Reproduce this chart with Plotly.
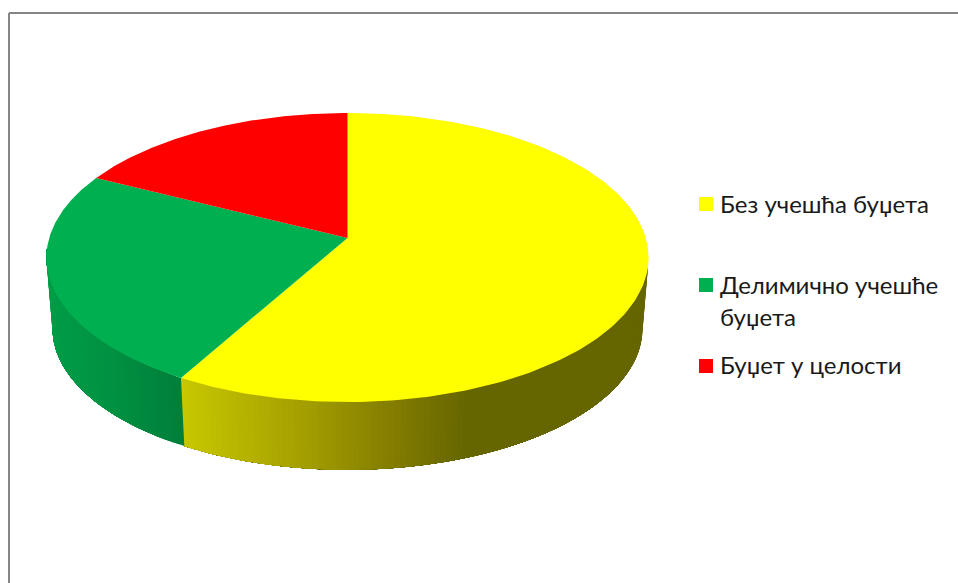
import numpy as np
import plotly.graph_objects as go

# ---- data ----
categories = ["Без учешћа буџета", "Делимично учешће<br>буџета", "Буџет у целости"]
values = [58.2, 24.2, 17.6]
top_colors = ["#FFFF00", "#00B050", "#FF0000"]

# side-wall shading stops: screen x -> colour
yellow_x = [180, 300, 400, 468, 660]
yellow_rgb = [(200, 200, 0), (165, 160, 0), (128, 122, 0), (102, 102, 0), (102, 102, 0)]
green_x = [40, 110, 185]
green_rgb = [(0, 158, 72), (0, 145, 66), (0, 125, 58)]

# legend placement
swatch_x = 706
swatch_y = [204, 285, 366]
text_y = [203, 284, 364]
line_gap = 32
text_x = 718

# ---- projection of the tilted disc ----
CX, CY = 347.5, 238.0
K, P, RX = 141.9, 0.135, 298.3
DROP, SHRINK = 71.0, 0.98


def project(theta_deg, level=0):
    t = np.radians(theta_deg)
    u, v = np.sin(t), -np.cos(t)
    d = 1 - P * v
    s = SHRINK if level else 1.0
    return CX + s * RX * u / d, CY + (DROP if level else 0) + s * K * v / d


def shade(x, xs, rgbs):
    c = [np.interp(x, xs, [r[i] for r in rgbs]) for i in range(3)]
    return "rgb(%d,%d,%d)" % tuple(int(round(a)) for a in c)


edges = np.concatenate([[0], np.cumsum(values)]) / sum(values) * 360.0

fig = go.Figure()


def polygon(xs, ys, color):
    fig.add_trace(go.Scatter(
        x=xs, y=ys, mode="lines", fill="toself", fillcolor=color,
        line=dict(width=0), hoverinfo="skip", showlegend=False))


def wall(a_from, a_to, xs_stops, rgb_stops, step=1.0):
    # each strip reaches to the far end of the wall and is overpainted by the next,
    # so no seams show between neighbours
    for a in np.arange(a_from, a_to, step):
        th = np.linspace(a, a_to, 60)
        x_top, y_top = project(th)
        x_bot, y_bot = project(th[::-1], 1)
        col = shade(project(a + step / 2)[0], xs_stops, rgb_stops)
        polygon(np.r_[x_top, x_bot, x_top[0]], np.r_[y_top, y_bot, y_top[0]], col)


wall(100.0, edges[1], yellow_x, yellow_rgb)
wall(edges[1], 266.0, green_x, green_rgb)

# top face wedges
for i in range(len(values)):
    th = np.linspace(edges[i], edges[i + 1], 200)
    xs, ys = project(th)
    polygon(np.r_[CX, xs, CX], np.r_[CY, ys, CY], top_colors[i])

# legend swatches and labels
annotations = []
for i, name in enumerate(categories):
    fig.add_trace(go.Scatter(
        x=[swatch_x], y=[swatch_y[i]], mode="markers", name=name.replace("<br>", " "),
        marker=dict(symbol="square", size=14, color=top_colors[i], line=dict(width=0)),
        showlegend=False, hoverinfo="name"))
    for j, line in enumerate(name.split("<br>")):
        annotations.append(dict(
            x=text_x, y=text_y[i] + j * line_gap, xref="x", yref="y", text=line,
            showarrow=False, xanchor="left", yanchor="middle",
            font=dict(family="Lato, Carlito, 'Open Sans', sans-serif", size=24, color="#1A1A1A")))

# chart frame, running off the right and bottom of the picture
frame = [dict(type="line", x0=9, x1=958, y0=13, y1=13),
         dict(type="line", x0=9, x1=9, y0=13, y1=583)]
for s in frame:
    s.update(xref="x", yref="y", line=dict(color="#868686", width=2), layer="above")

fig.update_layout(
    width=958, height=583, margin=dict(l=0, r=0, t=0, b=0),
    paper_bgcolor="white", plot_bgcolor="white", showlegend=False,
    xaxis=dict(range=[0, 958], visible=False, fixedrange=True),
    yaxis=dict(range=[583, 0], visible=False, fixedrange=True),
    annotations=annotations, shapes=frame)

fig.write_html("out.html", config={"displayModeBar": False},
               post_script="document.body.style.margin='0';document.body.style.overflow='hidden';")
